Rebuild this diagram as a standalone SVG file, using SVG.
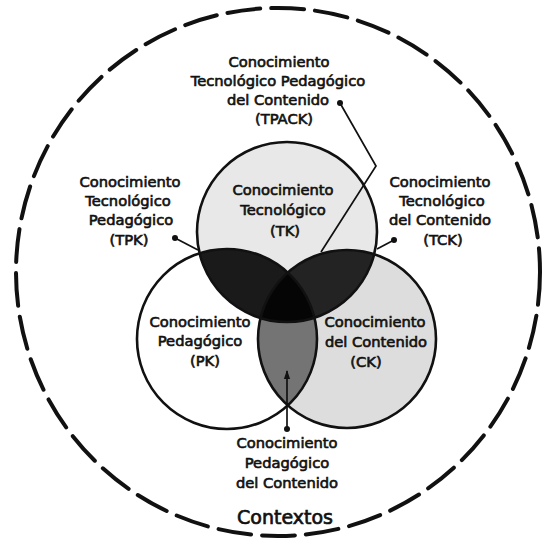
<svg xmlns="http://www.w3.org/2000/svg" width="542" height="540" viewBox="0 0 542 540">
<style>
.lbl{font-family:"DejaVu Sans","Liberation Sans",sans-serif;font-size:14.7px;fill:#111;stroke:#111;stroke-width:0.65;text-anchor:middle}
.ring{fill:none;stroke:#111;stroke-width:2.6}
.conn{fill:none;stroke:#111;stroke-width:1.7}
.dot{fill:#111}
</style>
<defs>
<clipPath id="cTK"><circle cx="287" cy="232" r="90"/></clipPath>
<clipPath id="cPK"><circle cx="227" cy="339" r="90"/></clipPath>
<clipPath id="cCK"><circle cx="347" cy="339" r="89"/></clipPath>
<marker id="arr" viewBox="0 0 10 10" refX="9" refY="5" markerWidth="9" markerHeight="9" markerUnits="userSpaceOnUse" orient="auto"><path d="M0,1.5 L10,5 L0,8.5 Z" fill="#111"/></marker>
</defs>
<rect width="542" height="540" fill="#fff"/>
<g id="contextos">
<ellipse cx="278" cy="272" rx="262" ry="264" fill="none" stroke="#111" stroke-width="4" stroke-dasharray="33 11" stroke-linecap="round"/>
<text x="285" y="524" style="font-family:'DejaVu Sans','Liberation Sans',sans-serif;font-size:19px;fill:#111;stroke:#111;stroke-width:0.7;text-anchor:middle">Contextos</text>
</g>
<g id="tk">
<circle cx="287" cy="232" r="90" fill="#e8e8e8"/>
</g>
<g id="pk">
<circle cx="227" cy="339" r="90" fill="#ffffff"/>
</g>
<g id="ck">
<circle cx="347" cy="339" r="89" fill="#dddddd"/>
</g>
<g id="pck-region" clip-path="url(#cPK)"><circle cx="347" cy="339" r="89" fill="#747474"/></g>
<g id="tpk-region" clip-path="url(#cTK)"><circle cx="227" cy="339" r="90" fill="#1a1a1a"/></g>
<g id="tck-region" clip-path="url(#cTK)"><circle cx="347" cy="339" r="89" fill="#232323"/></g>
<g id="tpack-region" clip-path="url(#cTK)"><g clip-path="url(#cPK)"><circle cx="347" cy="339" r="89" fill="#050505"/></g></g>
<g id="outlines">
<circle class="ring" cx="287" cy="232" r="90"/>
<circle class="ring" cx="227" cy="339" r="90"/>
<circle class="ring" cx="347" cy="339" r="89"/>
</g>
<g id="connectors">
<polyline class="conn" points="340,103 376,166 321,252"/>
<circle class="dot" cx="340" cy="103" r="3"/>
<line class="conn" x1="175" y1="238" x2="198" y2="250"/>
<circle class="dot" cx="175" cy="238" r="3"/>
<line class="conn" x1="394" y1="240" x2="377" y2="249"/>
<circle class="dot" cx="394" cy="240" r="3"/>
<line class="conn" x1="287" y1="429" x2="287" y2="371" marker-end="url(#arr)"/>
<circle class="dot" cx="287" cy="429" r="3"/>
</g>
<g id="tpack-label">
<text class="lbl" x="279" y="67">Conocimiento</text>
<text class="lbl" x="278" y="86">Tecnológico Pedagógico</text>
<text class="lbl" x="278" y="105">del Contenido</text>
<text class="lbl" x="284" y="124">(TPACK)</text>
</g>
<g id="tpk-label">
<text class="lbl" x="130" y="187">Conocimiento</text>
<text class="lbl" x="128" y="206">Tecnológico</text>
<text class="lbl" x="131" y="225">Pedagógico</text>
<text class="lbl" x="129" y="245">(TPK)</text>
</g>
<g id="tck-label">
<text class="lbl" x="440" y="187">Conocimiento</text>
<text class="lbl" x="442" y="206">Tecnológico</text>
<text class="lbl" x="440" y="225">del Contenido</text>
<text class="lbl" x="443" y="245">(TCK)</text>
</g>
<g id="tk-label">
<text class="lbl" x="283" y="195">Conocimiento</text>
<text class="lbl" x="283" y="215">Tecnológico</text>
<text class="lbl" x="285" y="236">(TK)</text>
</g>
<g id="pk-label">
<text class="lbl" x="200" y="327">Conocimiento</text>
<text class="lbl" x="200" y="346">Pedagógico</text>
<text class="lbl" x="205" y="366">(PK)</text>
</g>
<g id="ck-label">
<text class="lbl" x="375" y="327">Conocimiento</text>
<text class="lbl" x="376" y="347">del Contenido</text>
<text class="lbl" x="366" y="367">(CK)</text>
</g>
<g id="pck-label">
<text class="lbl" x="287" y="448">Conocimiento</text>
<text class="lbl" x="287" y="468">Pedagógico</text>
<text class="lbl" x="287" y="488">del Contenido</text>
</g>
</svg>
